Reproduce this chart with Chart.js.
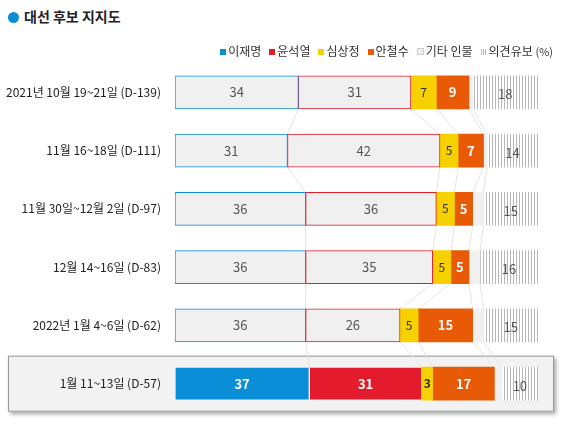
<!DOCTYPE html><html><head><meta charset="utf-8">
<script src="https://cdn.jsdelivr.net/npm/chart.js@4"></script>
<style>
body{margin:0;width:565px;height:426px;background:#fff;font-family:"Noto Sans CJK KR","Noto Sans",sans-serif;position:relative;overflow:hidden}
#t{position:absolute;left:8px;top:6px;font-size:14px;font-weight:bold;color:#222}
#t span{display:inline-block;width:11px;height:11px;border-radius:50%;background:#0a8fd6;margin-right:5px;vertical-align:-1px}
#lg{position:absolute;right:12px;top:42px;font-size:12px;color:#333;white-space:nowrap;z-index:2}
#lg i{display:inline-block;width:6px;height:6px;margin:0 2px 0 8px;vertical-align:1px}
#c{position:absolute;left:0;top:50px}
</style></head><body>
<div id="t"><span></span>대선 후보 지지도</div>
<div id="lg"><i style="background:#0a8fd6"></i>이재명<i style="background:#e31b2d"></i>윤석열<i style="background:#f7d000"></i>심상정<i style="background:#e85a05"></i>안철수<i style="background:#f0f0f0;border:1px solid #ccc;width:5px;height:5px"></i>기타 인물<i style="background:repeating-linear-gradient(90deg,#bbb 0 1px,#fff 1px 2px)"></i>의견유보 <span style="font-size:11px">(%)</span></div>
<canvas id="c" width="565" height="376"></canvas>
<script>
const categories=["2021년 10월 19~21일 (D-139)","11월 16~18일 (D-111)","11월 30일~12월 2일 (D-97)","12월 14~16일 (D-83)","2022년 1월 4~6일 (D-62)","1월 11~13일 (D-57)"];
const seriesNames=["이재명","윤석열","심상정","안철수","기타 인물","의견유보"];
const lee=[34,31,36,36,36,37];
const yoon=[31,42,36,35,26,31];
const sim=[7,5,5,5,5,3];
const ahn=[9,7,5,5,15,17];
const other=[1,1,3,3,3,2];
const undecided=[18,14,15,16,15,10];
const colors=["#0a8fd6","#e31b2d","#f7d000","#e85a05","#f0f0f0","#d0d0d0"];
const pc=document.createElement('canvas');pc.width=3;pc.height=3;const px=pc.getContext('2d');
px.fillStyle='#fff';px.fillRect(0,0,3,3);px.fillStyle='#b8b8b8';px.fillRect(0,0,1,3);
const hatch=document.getElementById('c').getContext('2d').createPattern(pc,'repeat');
const last=categories.length-1;
const vals=[lee,yoon,sim,ahn,other,undecided];
const datasets=vals.map((d,i)=>({label:seriesNames[i],data:d,
 backgroundColor:d.map((v,j)=>i==5?hatch:(i<2&&j!=last?'#f0f0f0':colors[i])),
 borderColor:d.map((v,j)=>i<2&&j!=last?colors[i]:'rgba(0,0,0,0)'),
 borderWidth:i<2?1:0,borderSkipped:false,barThickness:33}));
const F='"Noto Sans CJK KR",sans-serif';
const deco={id:'deco',beforeDraw(ch){const c=ch.ctx,x=ch.scales.x,y=ch.scales.y;
 const yl=y.getPixelForValue(last);c.save();c.shadowColor='rgba(0,0,0,0.35)';c.shadowBlur=4;c.shadowOffsetX=2;c.shadowOffsetY=2;
 c.fillStyle='#f2f2f2';c.fillRect(8,yl-28,546,56);c.shadowColor='transparent';c.strokeStyle='#999';c.lineWidth=1;c.strokeRect(8.5,yl-27.5,545,55);
 c.restore();},
 beforeDatasetsDraw(ch){const c=ch.ctx,x=ch.scales.x,y=ch.scales.y;c.save();
 c.strokeStyle='#e4e4e4';
 for(let j=0;j<last;j++){let a=0,b=0;for(let i=0;i<5;i++){a+=vals[i][j];b+=vals[i][j+1];
  c.beginPath();c.moveTo(x.getPixelForValue(a),y.getPixelForValue(j)+16);c.lineTo(x.getPixelForValue(b),y.getPixelForValue(j+1)-16);c.stroke();}}
 c.restore();},
 afterDatasetsDraw(ch){const c=ch.ctx;c.save();c.textAlign='center';c.textBaseline='middle';
 ch.data.datasets.forEach((ds,i)=>{if(i==4)return;ch.getDatasetMeta(i).data.forEach((el,j)=>{
  const hl=j==last;let col=(i<2)?(hl?'#fff':'#555'):(i==2?'#333':(i==3?'#fff':'#555'));
  c.font=((hl&&i<4)||i==3?'bold ':'')+(i==2?'12px ':'13px ')+F;
  c.fillStyle=col;c.fillText(ds.data[j],el.x-(el.x-el.base)/2,el.y+(i==5?2:0));});});c.restore();}};
new Chart(document.getElementById('c'),{type:'bar',data:{labels:categories,datasets},
 options:{indexAxis:'y',responsive:false,animation:false,layout:{padding:{left:0,right:27,top:4,bottom:13}},
 plugins:{legend:{display:false},tooltip:{enabled:false}},
 scales:{x:{stacked:true,min:0,max:100,display:false},
 y:{stacked:true,grid:{display:false},border:{display:false},ticks:{color:'#222',font:{size:12,family:F},padding:6}}}},
 plugins:[deco]});
</script></body></html>
